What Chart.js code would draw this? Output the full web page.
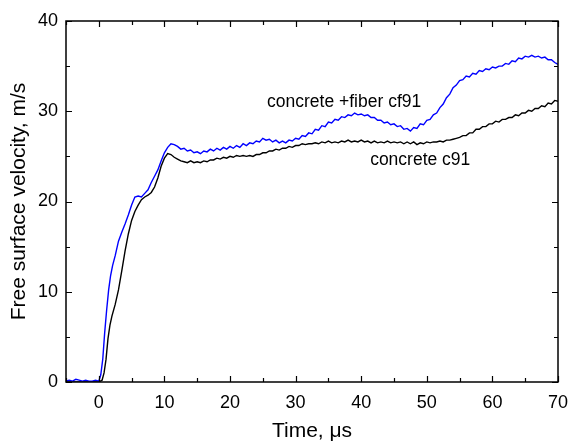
<!DOCTYPE html>
<html>
<head>
<meta charset="utf-8">
<script src="https://cdn.jsdelivr.net/npm/chart.js@4.4.0/dist/chart.umd.min.js"></script>
<style>
  html, body { margin: 0; padding: 0; background: #fff; }
  #wrap { width: 570px; height: 446px; }
</style>
</head>
<body>
<div id="wrap"><canvas id="chart"></canvas></div>
<script>
// fiber-reinforced concrete (blue)
const fiberTime = [-5, -4.5, -4, -3.5, -3, -2.5, -2, -1.5, -1, -0.5, 0, 0.3, 0.6, 0.9, 1.2, 1.5, 1.8, 2.1, 2.5, 3, 3.5, 4, 4.5, 5, 5.5, 6, 6.5, 7, 7.5, 8, 8.5, 9, 9.5, 10, 10.5, 11, 11.5,
  12, 12.5, 13, 13.5, 14, 14.5, 15, 15.5, 16, 16.5, 17, 17.5, 18, 18.5, 19, 19.5, 20, 20.5, 21, 21.5, 22, 22.5, 23, 23.5, 24, 24.5, 25, 25.5, 26, 26.5, 27, 27.5, 28, 28.5, 29, 29.5,
  30, 30.5, 31, 31.5, 32, 32.5, 33, 33.5, 34, 34.5, 35, 35.5, 36, 36.5, 37, 37.5, 38, 38.5, 39, 39.5, 40, 40.5, 41, 41.5, 42, 42.5, 43, 43.5, 44, 44.5, 45, 45.5, 46, 46.5, 47, 47.5,
  48, 48.5, 49, 49.5, 50, 50.5, 51, 51.5, 52, 52.5, 53, 53.5, 54, 54.5, 55, 55.5, 56, 56.5, 57, 57.5, 58, 58.5, 59, 59.5, 60, 60.5, 61, 61.5, 62, 62.5, 63, 63.5, 64, 64.5, 65, 65.5,
  66, 66.5, 67, 67.5, 68, 68.5, 69, 69.5, 70];
const fiberVel = [0.1, 0.2, 0.1, 0.3, 0.2, 0.1, 0.2, 0.1, 0.1, 0.2, 0.1, 0.8, 2.5, 5.5, 8.0, 10.2, 11.8, 12.9, 14.0, 15.6, 16.6, 17.5, 18.5, 19.6, 20.5, 20.6, 20.5, 20.9, 21.3, 22.1, 22.8, 23.5, 24.5, 25.4, 26.0, 26.4, 26.3,
  26.1, 25.8, 25.9, 25.6, 25.7, 25.4, 25.5, 25.3, 25.6, 25.5, 25.8, 25.6, 25.9, 25.7, 26.0, 25.8, 26.1, 25.9, 26.2, 26.0, 26.4, 26.2, 26.5, 26.4, 26.7, 26.6, 27.0, 26.8, 26.9, 26.6, 26.8, 26.5, 26.7, 26.5, 26.8, 26.7,
  27.0, 26.9, 27.3, 27.2, 27.6, 27.5, 28.0, 27.9, 28.4, 28.3, 28.8, 28.7, 29.1, 29.0, 29.4, 29.3, 29.6, 29.5, 29.8, 29.6, 29.7, 29.5, 29.6, 29.3, 29.3, 29.0, 29.0, 28.7, 28.8, 28.5, 28.6, 28.3, 28.4, 28.0, 28.1, 27.8,
  28.2, 28.1, 28.6, 28.5, 29.0, 29.1, 29.6, 29.8, 30.4, 30.8, 31.5, 31.9, 32.6, 32.9, 33.4, 33.5, 33.9, 33.8, 34.2, 34.1, 34.5, 34.4, 34.7, 34.6, 34.9, 34.8, 35.0, 35.0, 35.3, 35.2, 35.6, 35.5, 35.9, 35.8, 36.1, 36.0,
  36.2, 36.0, 36.1, 35.9, 36.0, 35.7, 35.7, 35.4, 35.2];

// plain concrete (black)
const plainTime = [-5, -4, -3, -2, -1, 0, 0.5, 0.8, 1.1, 1.4, 1.7, 2, 2.5, 3, 3.5, 4, 4.5, 5, 5.5, 6, 6.5, 7, 7.5, 8, 8.5, 9, 9.5, 10, 10.5, 11, 11.5,
  12, 12.5, 13, 13.5, 14, 14.5, 15, 15.5, 16, 16.5, 17, 17.5, 18, 18.5, 19, 19.5, 20, 20.5, 21, 21.5, 22, 22.5, 23, 23.5, 24, 24.5, 25, 25.5, 26, 26.5, 27, 27.5, 28, 28.5, 29, 29.5,
  30, 30.5, 31, 31.5, 32, 32.5, 33, 33.5, 34, 34.5, 35, 35.5, 36, 36.5, 37, 37.5, 38, 38.5, 39, 39.5, 40, 40.5, 41, 41.5, 42, 42.5, 43, 43.5, 44, 44.5, 45, 45.5, 46, 46.5, 47, 47.5,
  48, 48.5, 49, 49.5, 50, 50.5, 51, 51.5, 52, 52.5, 53, 53.5, 54, 54.5, 55, 55.5, 56, 56.5, 57, 57.5, 58, 58.5, 59, 59.5, 60, 60.5, 61, 61.5, 62, 62.5, 63, 63.5, 64, 64.5, 65, 65.5,
  66, 66.5, 67, 67.5, 68, 68.5, 69, 69.5, 70];
const plainVel = [0, 0, 0, 0, 0, 0, 0.2, 1.0, 2.5, 4.8, 6.3, 7.3, 8.6, 10.2, 12.3, 14.5, 16.4, 17.9, 18.9, 19.6, 20.2, 20.5, 20.7, 21.0, 21.6, 22.6, 23.9, 24.8, 25.3, 25.2, 24.9,
  24.7, 24.5, 24.4, 24.3, 24.5, 24.3, 24.4, 24.3, 24.5, 24.4, 24.6, 24.6, 24.8, 24.7, 24.9, 24.8, 25.0, 24.9, 25.1, 25.0, 25.1, 25.0, 25.1, 25.0, 25.2, 25.2, 25.4, 25.4, 25.6, 25.6, 25.8, 25.7, 25.9, 25.9, 26.1, 26.0,
  26.2, 26.2, 26.4, 26.3, 26.4, 26.4, 26.5, 26.4, 26.6, 26.5, 26.7, 26.5, 26.6, 26.5, 26.7, 26.6, 26.8, 26.6, 26.7, 26.6, 26.8, 26.6, 26.7, 26.5, 26.7, 26.5, 26.6, 26.5, 26.7, 26.5, 26.6, 26.5, 26.6, 26.4, 26.6, 26.4,
  26.6, 26.3, 26.5, 26.4, 26.6, 26.5, 26.6, 26.6, 26.7, 26.6, 26.8, 26.8, 26.9, 27.0, 27.1, 27.3, 27.3, 27.6, 27.6, 28.0, 28.0, 28.3, 28.3, 28.6, 28.6, 28.9, 28.8, 29.1, 29.1, 29.3, 29.3, 29.6, 29.5, 29.8, 29.8, 30.1,
  30.0, 30.3, 30.3, 30.6, 30.5, 30.9, 30.8, 31.2, 31.1];

const xTicks = [0, 10, 20, 30, 40, 50, 60, 70];
const yTicks = [0, 10, 20, 30, 40];

// curve labels, in data coordinates
const curveLabels = [
  { text: "concrete +fiber cf91", t: 37.4, v: 31.0 },
  { text: "concrete c91", t: 49.0, v: 24.6 }
];

const FONT = "'Liberation Sans', Arial, sans-serif";

function toPoints(xs, ys) {
  return xs.map((x, i) => ({ x: x, y: ys[i] }));
}

// frame, inward ticks and curve labels
const framePlugin = {
  id: "frame",
  afterDatasetsDraw(chart) {
    const ctx = chart.ctx;
    const a = chart.chartArea;
    const xs = chart.scales.x;
    const ys = chart.scales.y;
    ctx.save();
    ctx.strokeStyle = "#000";
    ctx.lineWidth = 1.5;
    ctx.strokeRect(a.left, a.top, a.right - a.left, a.bottom - a.top);

    ctx.lineWidth = 1.2;
    ctx.beginPath();
    for (let v = -5; v <= 70; v += 5) {
      const px = Math.round(xs.getPixelForValue(v)) + 0.5;
      const len = v % 10 === 0 ? 6 : 4;
      ctx.moveTo(px, a.bottom); ctx.lineTo(px, a.bottom - len);
      ctx.moveTo(px, a.top); ctx.lineTo(px, a.top + len);
    }
    for (let v = 0; v <= 40; v += 5) {
      const py = Math.round(ys.getPixelForValue(v)) + 0.5;
      const len = v % 10 === 0 ? 6 : 4;
      ctx.moveTo(a.left, py); ctx.lineTo(a.left + len, py);
      ctx.moveTo(a.right, py); ctx.lineTo(a.right - len, py);
    }
    ctx.stroke();

    ctx.fillStyle = "#000";
    ctx.font = "17.5px " + FONT;
    ctx.textAlign = "center";
    ctx.textBaseline = "middle";
    curveLabels.forEach(l => {
      ctx.fillText(l.text, xs.getPixelForValue(l.t), ys.getPixelForValue(l.v));
    });
    ctx.restore();
  }
};

new Chart(document.getElementById("chart"), {
  type: "scatter",
  data: {
    datasets: [
      {
        label: "concrete +fiber cf91",
        data: toPoints(fiberTime, fiberVel),
        showLine: true,
        borderColor: "#0000ff",
        borderWidth: 1.4,
        pointRadius: 0,
        tension: 0
      },
      {
        label: "concrete c91",
        data: toPoints(plainTime, plainVel),
        showLine: true,
        borderColor: "#000000",
        borderWidth: 1.4,
        pointRadius: 0,
        tension: 0
      }
    ]
  },
  options: {
    responsive: true,
    maintainAspectRatio: false,
    animation: false,
    layout: { padding: { top: 21, right: 12, left: 0, bottom: 0 } },
    plugins: {
      legend: { display: false },
      tooltip: { enabled: false }
    },
    scales: {
      x: {
        type: "linear",
        min: -5,
        max: 70,
        afterFit(scale) {
          scale.height = 64;
          scale.paddingLeft = 0;
          scale.paddingRight = 0;
        },
        afterBuildTicks(scale) { scale.ticks = xTicks.map(v => ({ value: v })); },
        grid: { display: false, drawTicks: false },
        border: { display: false },
        ticks: {
          color: "#000",
          padding: 10,
          maxRotation: 0,
          font: { family: FONT, size: 18 }
        },
        title: {
          display: true,
          text: "Time, μs",
          color: "#000",
          padding: { top: 0, bottom: 2 },
          font: { family: FONT, size: 21 }
        }
      },
      y: {
        type: "linear",
        min: 0,
        max: 40,
        afterFit(scale) {
          scale.width = 66;
          scale.paddingTop = 0;
          scale.paddingBottom = 0;
        },
        afterBuildTicks(scale) { scale.ticks = yTicks.map(v => ({ value: v })); },
        grid: { display: false, drawTicks: false },
        border: { display: false },
        ticks: {
          color: "#000",
          padding: 8,
          font: { family: FONT, size: 18 }
        },
        title: {
          display: true,
          text: "Free surface velocity, m/s",
          color: "#000",
          padding: { top: 7, bottom: 0 },
          font: { family: FONT, size: 21 }
        }
      }
    }
  },
  plugins: [framePlugin]
});
</script>
</body>
</html>
